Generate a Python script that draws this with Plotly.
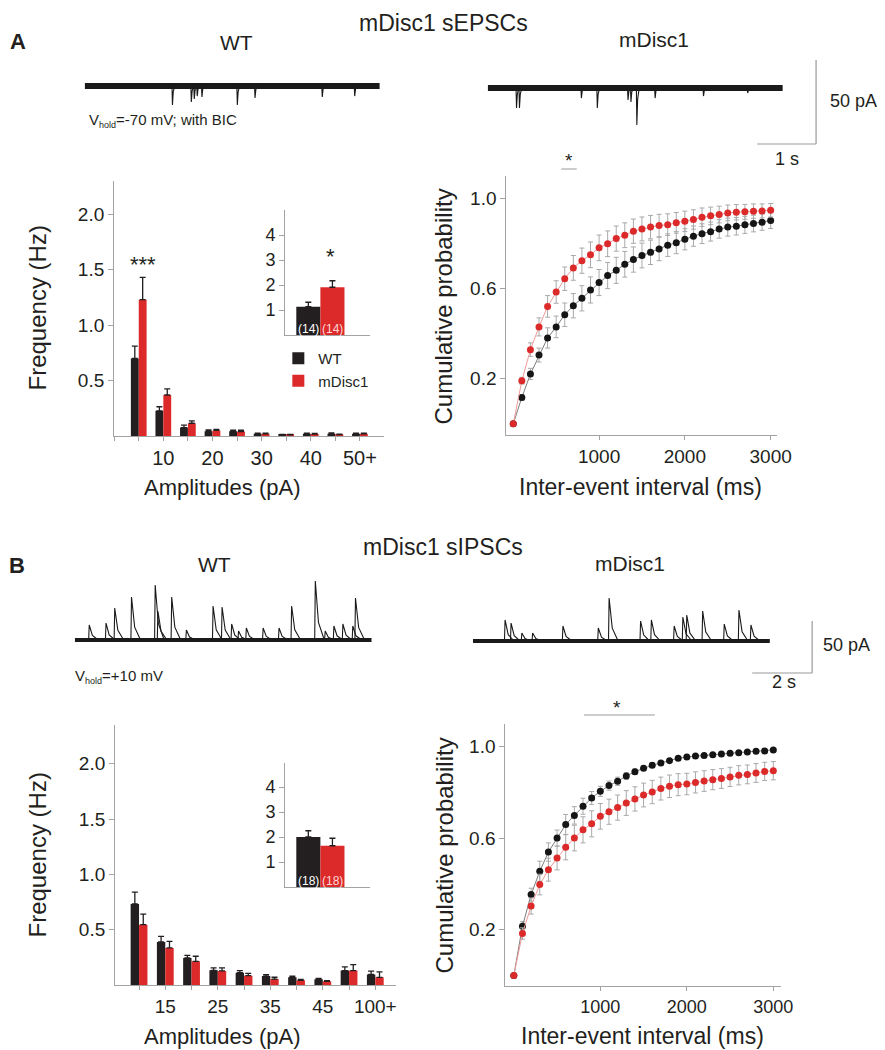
import plotly.graph_objects as go

W, H = 885, 1050

# ======================= DATA =======================
# --- Panel A: sEPSC amplitude histogram (Hz) ---
amp_bins_A = ["5", "10", "15", "20", "25", "30", "35", "40", "45", "50+"]
amp_labeled_A = ["10", "20", "30", "40", "50+"]
freq_wt_A = [0.70, 0.227, 0.076, 0.042, 0.042, 0.020, 0.010, 0.020, 0.020, 0.020]
freq_wt_A_err = [0.11, 0.037, 0.022, 0.012, 0.010, 0.006, 0.004, 0.005, 0.007, 0.006]
freq_md_A = [1.23, 0.370, 0.115, 0.050, 0.040, 0.020, 0.010, 0.018, 0.012, 0.020]
freq_md_A_err = [0.20, 0.055, 0.022, 0.010, 0.012, 0.006, 0.004, 0.005, 0.005, 0.006]

# inset A: mean frequency (Hz), n cells
groups = ["WT", "mDisc1"]
mean_freq_A = [1.13, 1.91]
mean_freq_A_err = [0.18, 0.26]
n_cells_A = ["(14)", "(14)"]

# --- Panel A: cumulative probability of inter-event interval ---
interval_ms = [0, 100, 200, 300, 400, 500, 600, 700, 800, 900, 1000,
               1100, 1200, 1300, 1400, 1500, 1600, 1700, 1800, 1900, 2000,
               2100, 2200, 2300, 2400, 2500, 2600, 2700, 2800, 2900, 3000]
cum_wt_A = [0.0, 0.117, 0.221, 0.305, 0.381, 0.430, 0.484, 0.524, 0.557, 0.594, 0.627,
            0.658, 0.681, 0.708, 0.729, 0.747, 0.761, 0.776, 0.793, 0.804, 0.819,
            0.833, 0.844, 0.853, 0.865, 0.873, 0.877, 0.883, 0.889, 0.895, 0.902]
cum_wt_A_err = [0.0, 0.012, 0.025, 0.031, 0.045, 0.048, 0.052, 0.054, 0.056, 0.058, 0.058,
                0.058, 0.058, 0.057, 0.056, 0.055, 0.054, 0.052, 0.050, 0.049, 0.047,
                0.045, 0.044, 0.042, 0.041, 0.040, 0.039, 0.038, 0.037, 0.036, 0.035]
cum_md_A = [0.0, 0.191, 0.329, 0.430, 0.521, 0.585, 0.644, 0.692, 0.724, 0.750, 0.781,
            0.799, 0.822, 0.837, 0.855, 0.865, 0.873, 0.880, 0.884, 0.892, 0.899,
            0.907, 0.917, 0.923, 0.929, 0.936, 0.939, 0.941, 0.944, 0.945, 0.948]
cum_md_A_err = [0.0, 0.015, 0.030, 0.040, 0.048, 0.050, 0.052, 0.055, 0.056, 0.057, 0.057,
                0.057, 0.056, 0.055, 0.054, 0.053, 0.052, 0.050, 0.048, 0.046, 0.045,
                0.043, 0.041, 0.039, 0.037, 0.035, 0.034, 0.033, 0.032, 0.031, 0.030]
sig_range_A_ms = [560, 740]

# --- Panel A: example traces (event times s, amplitudes pA; inward events) ---
duration_A_s = 5.0
events_wt_A_t = [1.48, 1.80, 1.85, 1.90, 1.98, 2.58, 2.88, 4.02, 4.57]
events_wt_A_amp = [11.3, 9.5, 7.7, 6.0, 6.5, 11.3, 7.1, 6.5, 6.0]
events_md_A_t = [0.48, 0.53, 1.58, 1.85, 2.37, 2.42, 2.52, 2.83, 3.65, 4.40]
events_md_A_amp = [11.9, 11.9, 6.0, 11.9, 7.1, 8.3, 22.0, 6.0, 4.8, 3.0]
scalebar_A = {"pA": 50, "s": 1}

# --- Panel B: sIPSC amplitude histogram (Hz) ---
amp_bins_B = ["10", "15", "20", "25", "30", "35", "40", "45", "50", "100+"]
amp_labeled_B = ["15", "25", "35", "45", "100+"]
freq_wt_B = [0.732, 0.389, 0.244, 0.133, 0.111, 0.081, 0.069, 0.051, 0.130, 0.096]
freq_wt_B_err = [0.108, 0.050, 0.024, 0.021, 0.019, 0.012, 0.011, 0.009, 0.033, 0.030]
freq_md_B = [0.545, 0.335, 0.214, 0.127, 0.084, 0.054, 0.042, 0.033, 0.130, 0.069]
freq_md_B_err = [0.095, 0.060, 0.046, 0.027, 0.021, 0.016, 0.008, 0.007, 0.054, 0.050]

mean_freq_B = [2.00, 1.65]
mean_freq_B_err = [0.25, 0.30]
n_cells_B = ["(18)", "(18)"]

cum_wt_B = [0.0, 0.215, 0.353, 0.455, 0.539, 0.600, 0.659, 0.699, 0.739, 0.775, 0.804,
            0.829, 0.848, 0.871, 0.890, 0.905, 0.918, 0.928, 0.938, 0.948, 0.954,
            0.958, 0.961, 0.964, 0.967, 0.970, 0.973, 0.976, 0.979, 0.980, 0.985]
cum_wt_B_err = [0.0, 0.020, 0.028, 0.044, 0.040, 0.035, 0.044, 0.038, 0.035, 0.028, 0.022,
                0.020, 0.018, 0.015, 0.012, 0.010, 0.009, 0.008, 0.007, 0.006, 0.006,
                0.005, 0.005, 0.005, 0.005, 0.005, 0.005, 0.005, 0.005, 0.005, 0.005]
cum_md_B = [0.0, 0.183, 0.303, 0.397, 0.462, 0.513, 0.560, 0.600, 0.636, 0.662, 0.695,
            0.715, 0.733, 0.753, 0.771, 0.788, 0.801, 0.816, 0.826, 0.833, 0.836,
            0.843, 0.849, 0.855, 0.860, 0.867, 0.874, 0.878, 0.884, 0.891, 0.894]
cum_md_B_err = [0.0, 0.025, 0.035, 0.045, 0.050, 0.052, 0.055, 0.056, 0.057, 0.057, 0.056,
                0.055, 0.055, 0.054, 0.053, 0.052, 0.051, 0.050, 0.049, 0.048, 0.047,
                0.046, 0.045, 0.044, 0.043, 0.042, 0.042, 0.041, 0.041, 0.040, 0.040]
sig_range_B_ms = [810, 1630]

# --- Panel B: example traces (outward events) ---
duration_B_s = 9.9
events_wt_B_t = [0.46, 1.02, 1.31, 1.87, 2.66, 2.75, 3.21, 3.70, 4.59, 4.89, 5.21,
                 5.44, 5.70, 6.26, 6.79, 7.21, 8.00, 8.33, 8.62, 8.92, 9.25, 9.34]
events_wt_B_amp = [14.4, 16.3, 30.8, 41.3, 52.9, 27.9, 41.3, 9.6, 32.7, 31.7, 15.4,
                   8.7, 11.5, 11.5, 11.5, 32.7, 56.7, 8.7, 13.5, 15.4, 13.5, 40.4]
events_md_B_t = [1.05, 1.25, 1.61, 1.97, 2.98, 4.16, 4.52, 5.57, 5.93, 6.69, 6.98,
                 7.11, 7.64, 8.36, 8.85, 9.25]
events_md_B_amp = [20.2, 17.3, 7.7, 7.7, 14.4, 12.5, 41.3, 19.2, 20.2, 14.4, 23.1,
                   25.0, 28.8, 16.3, 29.8, 15.4]
scalebar_B = {"pA": 50, "s": 2}

# ======================= STYLE / LAYOUT HELPERS =======================
FONT = "Arial, Liberation Sans, sans-serif"
TXT = "#231f20"
AXC = "#a3a3a3"
BLACK = "#231f20"
RED = "#dc2a2b"


def dom_x(a, b):
    return [a / W, b / W]


def dom_y(top, bottom):
    return [1 - bottom / H, 1 - top / H]


def px(x):
    return x / W


def py(y):
    return 1 - y / H


fig = go.Figure()


def add_bars(xname, yname, cats, v_wt, e_wt, v_md, e_md, legend=False, bw=0.32):
    pos = list(range(len(cats)))
    for vals, errs, col, name, off in [(v_wt, e_wt, BLACK, "WT", -bw), (v_md, e_md, RED, "mDisc1", 0.0)]:
        fig.add_trace(go.Bar(
            x=pos, y=vals, name=name, xaxis=xname, yaxis=yname,
            customdata=cats, hovertemplate="%{customdata}: %{y}<extra>" + name + "</extra>",
            width=bw, offset=off, marker=dict(color=col, line=dict(width=0)),
            error_y=dict(type="data", symmetric=False, array=errs,
                         arrayminus=[0] * len(errs), color=BLACK, thickness=1.3, width=3),
            showlegend=legend, legendgroup=name,
        ))


def add_inset(xname, yname, vals, errs):
    fig.add_trace(go.Bar(
        x=groups, y=vals, xaxis=xname, yaxis=yname, width=1.0,
        marker=dict(color=[BLACK, RED], line=dict(width=0)),
        error_y=dict(type="data", symmetric=False, array=errs,
                     arrayminus=[0, 0], color=BLACK, thickness=1.3, width=3),
        showlegend=False,
    ))


def add_cum(xname, yname, v, e, col, linecol):
    fig.add_trace(go.Scatter(
        x=interval_ms, y=v, xaxis=xname, yaxis=yname, mode="lines+markers",
        line=dict(color=linecol, width=1),
        marker=dict(color=col, size=7),
        error_y=dict(type="data", array=e, color="#a9a9a9", thickness=1, width=2.5),
        showlegend=False,
    ))


def spike_path(times, amps, sign, rise, decay):
    xs, ys = [], []
    for t, a in zip(times, amps):
        xs += [t, t + rise, t + rise + decay * 0.35, t + rise + decay, None]
        ys += [0, sign * a, sign * a * 0.3, 0, None]
    return xs, ys


def add_trace_rec(xname, yname, dur, times, amps, sign, band, rise, decay):
    fig.add_trace(go.Scatter(x=[0, dur], y=[0, 0], xaxis=xname, yaxis=yname, mode="lines",
                             line=dict(color="#1a1a1a", width=band), showlegend=False,
                             hoverinfo="skip"))
    sx, sy = spike_path(times, amps, sign, rise, decay)
    fig.add_trace(go.Scatter(x=sx, y=sy, xaxis=xname, yaxis=yname, mode="lines",
                             line=dict(color="#1a1a1a", width=1.1), showlegend=False,
                             hoverinfo="skip"))


# ---------- traces ----------
add_bars("x", "y", amp_bins_A, freq_wt_A, freq_wt_A_err, freq_md_A, freq_md_A_err, legend=True)
add_inset("x2", "y2", mean_freq_A, mean_freq_A_err)
add_cum("x3", "y3", cum_wt_A, cum_wt_A_err, "#151515", "#7d7d7d")
add_cum("x3", "y3", cum_md_A, cum_md_A_err, RED, "#f19a9a")
add_trace_rec("x4", "y4", duration_A_s, events_wt_A_t, events_wt_A_amp, -1, 6, 0.008, 0.04)
add_trace_rec("x5", "y5", duration_A_s, events_md_A_t, events_md_A_amp, -1, 6, 0.008, 0.04)

add_bars("x6", "y6", amp_bins_B, freq_wt_B, freq_wt_B_err, freq_md_B, freq_md_B_err)
add_inset("x7", "y7", mean_freq_B, mean_freq_B_err)
add_cum("x8", "y8", cum_wt_B, cum_wt_B_err, "#151515", "#7d7d7d")
add_cum("x8", "y8", cum_md_B, cum_md_B_err, RED, "#f19a9a")
add_trace_rec("x9", "y9", duration_B_s, events_wt_B_t, events_wt_B_amp, 1, 4, 0.02, 0.3)
add_trace_rec("x10", "y10", duration_B_s, events_md_B_t, events_md_B_amp, 1, 4, 0.02, 0.3)


# ---------- axes ----------
def axis_common(**kw):
    d = dict(showline=True, linecolor=AXC, linewidth=1.2, showgrid=False, zeroline=False,
             ticks="outside", tickcolor=AXC, tickwidth=1.2, ticklen=5,
             tickfont=dict(family=FONT, size=19, color=TXT), fixedrange=True)
    d.update(kw)
    return d


def cat_axis(bins, labeled, size, **kw):
    tv = [bins.index(b) for b in labeled]
    return axis_common(tickvals=tv, ticktext=labeled, ticklen=4,
                       minor=dict(ticks="outside", tick0=0, dtick=1, ticklen=4,
                                  tickcolor=AXC, tickwidth=1.2, showgrid=False),
                       tickfont=dict(family=FONT, size=size, color=TXT), **kw)


def trace_axes(x0, x1, top, bottom, base, pxs, pxpa):
    xa = dict(domain=dom_x(x0, x1), range=[0, (x1 - x0) / pxs], visible=False, fixedrange=True)
    ya = dict(domain=dom_y(top, bottom),
              range=[-(bottom - base) / pxpa, (base - top) / pxpa], visible=False, fixedrange=True)
    return xa, ya


PXS_A, PXPA_A = 60.0, 1.68
PXS_B, PXPA_B = 30.5, 1.04

x4, y4 = trace_axes(78, 380, 30, 150, 78, PXS_A, PXPA_A)
x5, y5 = trace_axes(488, 840, 30, 150, 80, PXS_A, PXPA_A)
x9, y9 = trace_axes(68, 370, 550, 690, 632, PXS_B, PXPA_B)
x10, y10 = trace_axes(473, 840, 550, 690, 633, PXS_B, PXPA_B)

layout_axes = dict(
    xaxis=cat_axis(amp_bins_A, amp_labeled_A, 20, domain=dom_x(108, 382), range=[-1.0, 9.96], anchor="y"),
    yaxis=axis_common(domain=dom_y(173, 428), range=[0, 2.3], anchor="x",
                      tickvals=[0.5, 1.0, 1.5, 2.0], ticktext=["0.5", "1.0", "1.5", "2.0"]),
    xaxis2=axis_common(domain=dom_x(282, 368), range=[-0.96, 2.55], anchor="y2", type="category",
                       showticklabels=False, ticks=""),
    yaxis2=axis_common(domain=dom_y(202, 327), range=[0, 5.0], anchor="x2",
                       tickvals=[1, 2, 3, 4], tickfont=dict(family=FONT, size=18, color=TXT)),
    xaxis3=axis_common(domain=dom_x(507, 782), range=[-80, 3071], anchor="y3",
                       tickvals=[1000, 2000, 3000], ticklen=4),
    yaxis3=axis_common(domain=dom_y(168, 427), range=[-0.05, 1.10], anchor="x3",
                       tickvals=[0.2, 0.6, 1.0], ticktext=["0.2", "0.6", "1.0"]),
    xaxis4=dict(x4, anchor="y4"), yaxis4=dict(y4, anchor="x4"),
    xaxis5=dict(x5, anchor="y5"), yaxis5=dict(y5, anchor="x5"),
    xaxis6=cat_axis(amp_bins_B, amp_labeled_B, 19, domain=dom_x(109, 395), range=[-0.91, 9.8], anchor="y6"),
    yaxis6=axis_common(domain=dom_y(717, 977), range=[0, 2.35], anchor="x6",
                       tickvals=[0.5, 1.0, 1.5, 2.0], ticktext=["0.5", "1.0", "1.5", "2.0"]),
    xaxis7=axis_common(domain=dom_x(282, 368), range=[-0.96, 2.55], anchor="y7", type="category",
                       showticklabels=False, ticks=""),
    yaxis7=axis_common(domain=dom_y(755, 879), range=[0, 4.96], anchor="x7",
                       tickvals=[1, 2, 3, 4], tickfont=dict(family=FONT, size=18, color=TXT)),
    xaxis8=axis_common(domain=dom_x(506, 786), range=[-97, 3085], anchor="y8",
                       tickvals=[1000, 2000, 3000], ticklen=4,
                       tickfont=dict(family=FONT, size=18, color=TXT)),
    yaxis8=axis_common(domain=dom_y(716, 978), range=[-0.046, 1.098], anchor="x8",
                       tickvals=[0.2, 0.6, 1.0], ticktext=["0.2", "0.6", "1.0"]),
    xaxis9=dict(x9, anchor="y9"), yaxis9=dict(y9, anchor="x9"),
    xaxis10=dict(x10, anchor="y10"), yaxis10=dict(y10, anchor="x10"),
)

# ---------- shapes (scale bars, significance lines) ----------
shapes = []


def scalebar(xn, yn, corner_px, x0px, base_py, pxs, pxpa, sb):
    t = (corner_px[0] - x0px) / pxs
    v = -(corner_px[1] - base_py) / pxpa
    ln = dict(color="#9a9a9a", width=1.2)
    shapes.append(dict(type="line", xref=xn, yref=yn, x0=t, x1=t, y0=v, y1=v + sb["pA"], line=ln))
    shapes.append(dict(type="line", xref=xn, yref=yn, x0=t - sb["s"], x1=t, y0=v, y1=v, line=ln))


scalebar("x5", "y5", (822, 136), 488, 80, PXS_A, PXPA_A, scalebar_A)
scalebar("x10", "y10", (818, 665), 473, 633, PXS_B, PXPA_B, scalebar_B)

shapes.append(dict(type="line", xref="x3", yref="paper", x0=sig_range_A_ms[0], x1=sig_range_A_ms[1],
                   y0=py(161), y1=py(161), line=dict(color="#9a9a9a", width=1.2)))
shapes.append(dict(type="line", xref="x8", yref="paper", x0=sig_range_B_ms[0], x1=sig_range_B_ms[1],
                   y0=py(707), y1=py(707), line=dict(color="#9a9a9a", width=1.2)))

# ---------- annotations ----------
ann = []
DY = -4  # annotation box centre sits slightly above the visual text centre


def text(x, y, s, size, xanchor="center", bold=False, angle=0, color=TXT):
    if bold:
        s = "<b>" + s + "</b>"
    ann.append(dict(x=px(x), y=py(y + (DY if angle == 0 else 0)), xref="paper", yref="paper",
                    text=s, showarrow=False, xanchor=xanchor, yanchor="middle", textangle=angle,
                    font=dict(family=FONT, size=size, color=color)))


SUB = "<sub><span style='font-size:9px'>hold</span></sub>"
text(10, 37, "A", 22, bold=True)
text(9, 561, "B", 22, bold=True)
text(443, 19, "mDisc1 sEPSCs", 23)
text(443, 543, "mDisc1 sIPSCs", 23)
text(232, 38, "WT", 21)
text(657, 36, "mDisc1", 21)
text(210, 560, "WT", 21)
text(633, 559, "mDisc1", 21)
text(80, 116, "V" + SUB + "=-70 mV; with BIC", 15, xanchor="left")
text(66, 672, "V" + SUB + "=+10 mV", 15, xanchor="left")
text(834, 97, "50 pA", 18, xanchor="left")
text(792, 155, "1 s", 18)
text(827, 641, "50 pA", 18, xanchor="left")
text(789, 678, "2 s", 18)
text(137, 260, "***", 22)
text(328, 253, "*", 22)
text(571, 157, "*", 19)
text(620, 703, "*", 19)

text(30, 300, "Frequency (Hz)", 24, angle=-90)
text(30, 847, "Frequency (Hz)", 24, angle=-90)
text(444, 298, "Cumulative probability", 24, angle=-90)
text(444, 847, "Cumulative probability", 24, angle=-90)
text(218, 483, "Amplitudes (pA)", 22)
text(218, 1032, "Amplitudes (pA)", 22)
text(643, 483, "Inter-event interval (ms)", 23)
text(645, 1032, "Inter-event interval (ms)", 23)

for xn, yn, labels in [("x2", "y2", n_cells_A), ("x7", "y7", n_cells_B)]:
    for g, lab, col in zip(groups, labels, ["#ffffff", "#ffd6d6"]):
        ann.append(dict(x=g, y=0.25, xref=xn, yref=yn, text=lab, showarrow=False,
                        font=dict(family=FONT, size=12, color=col)))

fig.update_layout(
    width=W, height=H, margin=dict(l=0, r=0, t=0, b=0),
    paper_bgcolor="white", plot_bgcolor="rgba(0,0,0,0)",
    barmode="overlay", shapes=shapes, annotations=ann,
    showlegend=True,
    legend=dict(x=px(275), y=py(334), xanchor="left", yanchor="top",
                bgcolor="rgba(0,0,0,0)", font=dict(family=FONT, size=15, color=TXT),
                tracegroupgap=0, itemclick=False, itemdoubleclick=False),
    font=dict(family=FONT, color=TXT),
    **layout_axes,
)

fig.write_html("out.html")
